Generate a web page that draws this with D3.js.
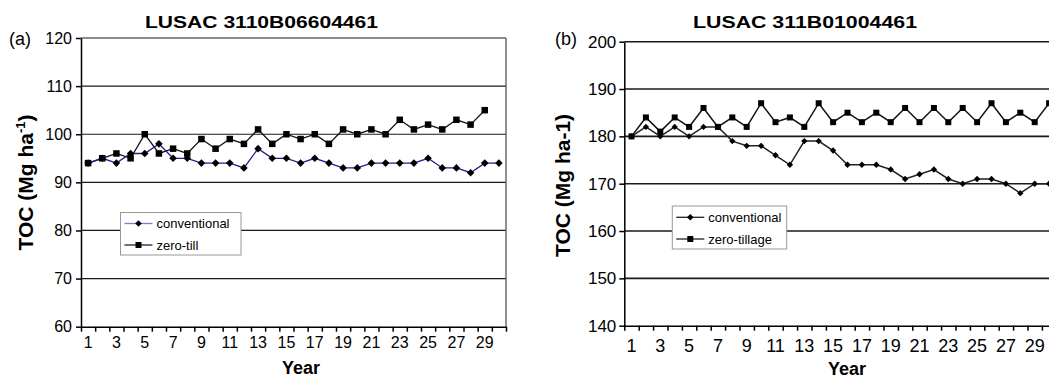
<!DOCTYPE html>
<html>
<head>
<meta charset="utf-8">
<script src="https://cdn.jsdelivr.net/npm/d3@7"></script>
<style>
body{margin:0;background:#fff;overflow:hidden;}
svg{display:block;font-family:"Liberation Sans",Arial,sans-serif;}
</style>
</head>
<body>
<svg id="chart" width="1049" height="379"></svg>
<script>
// categories
const years = [1,2,3,4,5,6,7,8,9,10,11,12,13,14,15,16,17,18,19,20,21,22,23,24,25,26,27,28,29,30];
const yearLabels = [1,3,5,7,9,11,13,15,17,19,21,23,25,27,29];

// panel (a) LUSAC 3110B06604461
const convA = [94,95,94,96,96,98,95,95,94,94,94,93,97,95,95,94,95,94,93,93,94,94,94,94,95,93,93,92,94,94];
const zeroA = [94,95,96,95,100,96,97,96,99,97,99,98,101,98,100,99,100,98,101,100,101,100,103,101,102,101,103,102,105];
const ticksA = [60,70,80,90,100,110,120];

// panel (b) LUSAC 311B01004461
const convB = [180,182,180,182,180,182,182,179,178,178,176,174,179,179,177,174,174,174,173,171,172,173,171,170,171,171,170,168,170,170];
const zeroB = [180,184,181,184,182,186,182,184,182,187,183,184,182,187,183,185,183,185,183,186,183,186,183,186,183,187,183,185,183,187];
const ticksB = [140,150,160,170,180,190,200];

const svg = d3.select("#chart");

function diamond(r){ return `M0,${-r}L${r},0L0,${r}L${-r},0Z`; }

function drawPanel(p){
	const g = svg.append("g");
	const x = d3.scaleBand().domain(years).range([p.left, p.right]);
	const xb = d3.scaleLinear().domain([0.5, 30.5]).range([p.left, p.right]); // for boundary ticks
	const y = d3.scaleLinear().domain([p.ticks[0], p.ticks[p.ticks.length-1]]).range([p.bottom, p.top]);
	const cx = (d, i) => x(years[i]) + x.bandwidth()/2;

	// horizontal grid
	g.selectAll(".grid").data(p.ticks.slice(1)).enter().append("line")
		.attr("x1", p.left).attr("x2", p.right)
		.attr("y1", d => y(d)).attr("y2", d => y(d))
		.attr("stroke", "#1a1a1a").attr("stroke-width", p.gridW);
	// right border
	g.append("line").attr("x1", p.right).attr("x2", p.right).attr("y1", p.top).attr("y2", p.bottom)
		.attr("stroke", "#555").attr("stroke-width", 1.3);

	// y axis
	const ya = g.append("g").attr("transform", `translate(${p.left},0)`)
		.call(d3.axisLeft(y).tickValues(p.ticks).tickSize(5).tickSizeOuter(0).tickPadding(p.yPad));
	ya.selectAll("text").attr("font-size", p.yFont).attr("fill", "#000").attr("font-family", "Liberation Sans, Arial");
	ya.selectAll("line,path").attr("stroke", "#000").attr("stroke-width", 1.5);

	// x axis, ticks on category boundaries
	const boundaries = years.map(d => d - 0.5).concat([30.5]);
	const xa = g.append("g").attr("transform", `translate(0,${p.bottom})`)
		.call(d3.axisBottom(xb).tickValues(boundaries).tickSize(5).tickSizeOuter(0).tickFormat(""));
	xa.selectAll("line,path").attr("stroke", "#000").attr("stroke-width", 1.5);
	const xl = g.append("g").attr("transform", `translate(0,${p.bottom})`)
		.call(d3.axisBottom(x).tickValues(yearLabels).tickSize(0).tickPadding(p.xPad));
	xl.select(".domain").remove();
	xl.selectAll("text").attr("font-size", p.xFont).attr("fill", "#000").attr("font-family", "Liberation Sans, Arial");

	// lines
	const line = d3.line().x(cx).y(d => y(d));
	g.append("path").datum(p.zero).attr("d", line).attr("fill", "none")
		.attr("stroke", "#111").attr("stroke-width", p.lineW);
	g.append("path").datum(p.conv).attr("d", line).attr("fill", "none")
		.attr("stroke", p.convColor).attr("stroke-width", p.lineW);

	// markers
	g.selectAll(".sq").data(p.zero).enter().append("rect")
		.attr("x", (d, i) => cx(d, i) - p.sq/2).attr("y", d => y(d) - p.sq/2)
		.attr("width", p.sq).attr("height", p.sq).attr("fill", "#000");
	g.selectAll(".dm").data(p.conv).enter().append("path")
		.attr("d", diamond(p.dm))
		.attr("transform", (d, i) => `translate(${cx(d, i)},${y(d)})`).attr("fill", "#000");

	// title
	g.append("text").attr("x", p.titleX).attr("y", p.titleY).attr("text-anchor", "middle")
		.attr("font-weight", "bold").attr("font-size", 17)
		.attr("textLength", p.titleLen).attr("lengthAdjust", "spacingAndGlyphs")
		.text(p.title);
	// panel letter
	g.append("text").attr("x", p.letterX).attr("y", p.letterY).attr("font-size", 18).text(p.letter);

	// axis titles
	const yt = g.append("text").attr("transform", `translate(${p.ytX},${p.ytY}) rotate(-90)`)
		.attr("text-anchor", "middle").attr("font-weight", "bold").attr("font-size", 21);
	if (p.supUnit) {
		yt.append("tspan").text("TOC (Mg ha");
		yt.append("tspan").attr("font-size", 13).attr("dy", -8).text("-1");
		yt.append("tspan").attr("dy", 8).text(")");
	} else {
		yt.text("TOC (Mg ha-1)");
	}
	g.append("text").attr("x", p.yearX).attr("y", p.yearY).attr("text-anchor", "middle")
		.attr("font-weight", "bold").attr("font-size", 18).text("Year");

	// legend
	const lg = g.append("g").attr("transform", `translate(${p.legX},${p.legY})`);
	lg.append("rect").attr("width", p.legW).attr("height", p.legH)
		.attr("fill", "#fff").attr("stroke", "#999").attr("stroke-width", 1);
	const rows = [
		{name: "conventional", color: p.legConvColor, mark: "dm"},
		{name: p.zeroName, color: "#222", mark: "sq"}
	];
	rows.forEach((r, i) => {
		const ry = p.rowY[i];
		lg.append("line").attr("x1", 4).attr("x2", 32).attr("y1", ry).attr("y2", ry)
			.attr("stroke", r.color).attr("stroke-width", 1.3);
		if (r.mark == "dm") {
			lg.append("path").attr("d", diamond(3.3)).attr("transform", `translate(18,${ry})`).attr("fill", "#000");
		} else {
			lg.append("rect").attr("x", 15).attr("y", ry - 3).attr("width", 6).attr("height", 6).attr("fill", "#000");
		}
		lg.append("text").attr("x", 36).attr("y", ry).attr("dy", "0.35em").attr("font-size", 13).text(r.name);
	});
}

drawPanel({
	left: 81, right: 506, top: 38, bottom: 326.7,
	ticks: ticksA, conv: convA, zero: zeroA,
	convColor: "#1f1f8f", legConvColor: "#7a7ad8",
	gridW: 1.2, lineW: 1.3, sq: 6.5, dm: 3.8,
	yFont: 16, yPad: 4, xFont: 16, xPad: 10,
	title: "LUSAC 3110B06604461", titleX: 261.5, titleY: 28, titleLen: 233,
	letter: "(a)", letterX: 9, letterY: 45,
	ytX: 33, ytY: 182.5, supUnit: true,
	yearX: 301, yearY: 374,
	legX: 120.5, legY: 212.5, legW: 120.5, legH: 42.5, rowY: [11, 32.5], zeroName: "zero-till"
});

drawPanel({
	left: 624.3, right: 1056.3, top: 41.7, bottom: 325.7,
	ticks: ticksB, conv: convB, zero: zeroB,
	convColor: "#222", legConvColor: "#222",
	gridW: 1.6, lineW: 1.5, sq: 6, dm: 3.2,
	yFont: 17, yPad: 3, xFont: 18, xPad: 14,
	title: "LUSAC 311B01004461", titleX: 805, titleY: 28, titleLen: 224,
	letter: "(b)", letterX: 555, letterY: 45,
	ytX: 570, ytY: 185.5, supUnit: false,
	yearX: 847, yearY: 375,
	legX: 672.3, legY: 206, legW: 114.4, legH: 43, rowY: [11.3, 33], zeroName: "zero-tillage"
});
</script>
</body>
</html>
